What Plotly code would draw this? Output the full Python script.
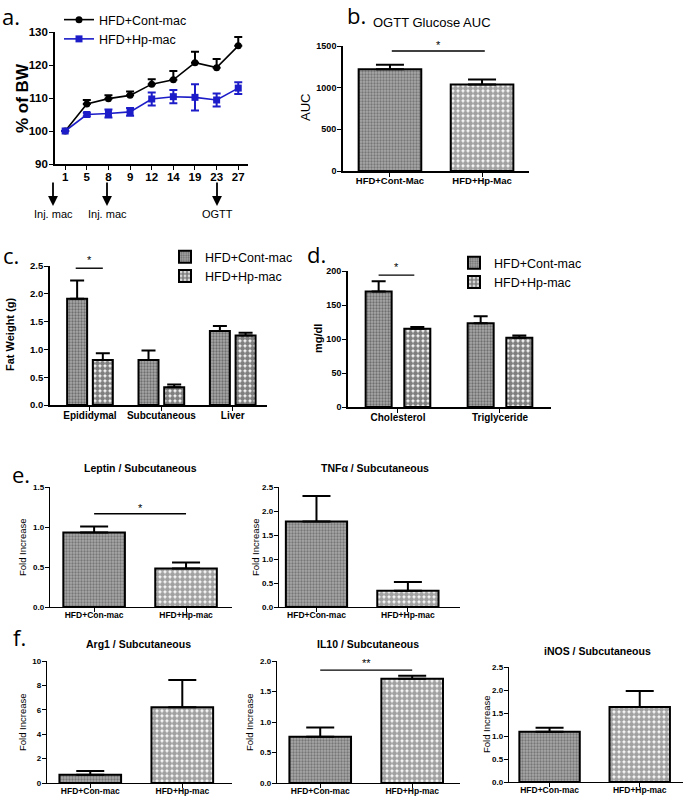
import plotly.graph_objects as go

W, H = 685, 799
def px(x): return x / W
def py(y): return 1 - y / H

FONT = "Liberation Sans, Arial, sans-serif"

# ---------------- data ----------------
days = ["1", "5", "8", "9", "12", "14", "19", "23", "27"]
bw_cont = [100, 108.2, 109.8, 110.8, 114.2, 115.5, 120.7, 119.2, 125.8]
bw_cont_err = [0, 1.2, 1.0, 1.2, 1.5, 2.7, 3.3, 2.6, 2.7]
bw_hp = [100, 105.0, 105.3, 105.8, 109.7, 110.4, 110.2, 109.4, 113.0]
bw_hp_err = [0, 0.5, 1.2, 1.2, 2.0, 2.0, 4.0, 2.0, 1.8]

auc_groups = ["HFD+Cont-Mac", "HFD+Hp-Mac"]
auc_vals = [1222, 1037]
auc_err = [52, 62]

fat_tissues = ["Epididymal", "Subcutaneous", "Liver"]
fat_cont = [1.91, 0.81, 1.33]
fat_cont_err = [0.33, 0.17, 0.09]
fat_hp = [0.81, 0.32, 1.25]
fat_hp_err = [0.12, 0.05, 0.05]

lipid_types = ["Cholesterol", "Triglyceride"]
lipid_cont = [170, 123]
lipid_cont_err = [15, 10.5]
lipid_hp = [115, 102]
lipid_hp_err = [2.5, 3]

gene_groups = ["HFD+Con-mac", "HFD+Hp-mac"]
leptin_vals = [0.93, 0.48]
leptin_err = [0.075, 0.075]
tnf_vals = [1.78, 0.34]
tnf_err = [0.53, 0.18]
arg1_vals = [0.67, 6.2]
arg1_err = [0.32, 2.25]
il10_vals = [0.76, 1.71]
il10_err = [0.15, 0.05]
inos_vals = [1.09, 1.63]
inos_err = [0.09, 0.35]

leg_cont = "HFD+Cont-mac"
leg_hp = "HFD+Hp-mac"

# ---------------- styles ----------------
CONT_PAT = dict(shape=".", fgcolor="#333333", bgcolor="#a8a8a8", size=3, solidity=0.45)
HP_PAT = dict(shape=".", fgcolor="#000000", bgcolor="#ffffff", size=5, solidity=0.75)
BLUE = "#1c1cc8"

fig = go.Figure()
layout = {}
annotations = []
shapes = []

def axes(n, x0, x1, ytop, ybot, yrange, dtick, xrange, tickfs=9, xtickfs=9.5, lw=1.6, xstand=-4):
    sfx = "" if n == 1 else str(n)
    layout["xaxis" + sfx] = dict(
        domain=[px(x0), px(x1)], anchor="y" + sfx, range=xrange, type="category",
        showline=True, linecolor="black", linewidth=lw, ticks="outside", ticklen=4,
        tickwidth=1.2, tickcolor="black", showgrid=False, zeroline=False,
        ticklabelstandoff=xstand, automargin=False,
        tickfont=dict(family=FONT, size=xtickfs, color="black", weight="bold"))
    layout["yaxis" + sfx] = dict(
        domain=[py(ybot), py(ytop)], anchor="x" + sfx, range=yrange, dtick=dtick,
        showline=True, linecolor="black", linewidth=lw, ticks="outside", ticklen=4,
        tickwidth=1.2, tickcolor="black", showgrid=False, zeroline=False,
        ticklabelstandoff=-1, automargin=False,
        tickfont=dict(family=FONT, size=tickfs, color="black", weight="bold"))
    return "x" + sfx, "y" + sfx

def bar(xa, ya, x, y, err, pat, width=0.67, offset=None, name=None, legend=None, showlegend=False):
    kw = {}
    if offset is not None:
        kw["offset"] = offset
    fig.add_trace(go.Bar(
        x=x, y=y, xaxis=xa, yaxis=ya, width=width, name=name,
        showlegend=showlegend, legend=legend,
        marker=dict(color=pat["bgcolor"], pattern=pat, line=dict(color="black", width=2)),
        error_y=dict(type="data", array=err, arrayminus=[0] * len(err), symmetric=False,
                     color="black", thickness=2, width=7),
        **kw))

def single_bar_panel(xa, ya, cats, vals, errs, width=0.67):
    pats = [CONT_PAT, HP_PAT]
    fig.add_trace(go.Bar(
        x=cats, y=vals, xaxis=xa, yaxis=ya, width=width, showlegend=False,
        marker=dict(color=[p["bgcolor"] for p in pats],
                    pattern=dict(shape=[p["shape"] for p in pats],
                                 fgcolor=[p["fgcolor"] for p in pats],
                                 bgcolor=[p["bgcolor"] for p in pats],
                                 size=[p["size"] for p in pats],
                                 solidity=[p["solidity"] for p in pats]),
                    line=dict(color="black", width=2)),
        error_y=dict(type="data", array=errs, arrayminus=[0] * len(errs), symmetric=False,
                     color="black", thickness=2, width=14)))

def text(x, y, t, size=11, bold=False, angle=0, family=FONT, xanchor="center"):
    annotations.append(dict(x=px(x), y=py(y), xref="paper", yref="paper", text=t,
                            showarrow=False, textangle=angle, xanchor=xanchor, yanchor="middle",
                            font=dict(family=family, size=size, color="black",
                                      weight="bold" if bold else "normal")))

def sig(xa, ya, x0, x1, yv, star, ystar, ymax):
    shapes.append(dict(type="line", xref=xa, yref=ya + " domain", x0=x0, x1=x1,
                       y0=yv / ymax, y1=yv / ymax, line=dict(color="black", width=1.4)))
    annotations.append(dict(x=(x0 + x1) / 2, y=ystar / ymax, xref=xa, yref=ya + " domain",
                            text=star, showarrow=False, yanchor="middle",
                            font=dict(family=FONT, size=11, color="black")))

# ---------------- panel a ----------------
xa, ya = axes(1, 55, 248, 32, 164, [90, 130], 10, [-0.47, 8.45], tickfs=11.5, xtickfs=11.5, xstand=-3)
fig.add_trace(go.Scatter(x=days, y=bw_cont, xaxis=xa, yaxis=ya, name=leg_cont, legend="legend",
                         mode="lines+markers", line=dict(color="black", width=1.6),
                         marker=dict(symbol="circle", size=7, color="black"),
                         error_y=dict(type="data", array=bw_cont_err, arrayminus=[0] * 9,
                                      symmetric=False, color="black", thickness=2, width=4)))
fig.add_trace(go.Scatter(x=days, y=bw_hp, xaxis=xa, yaxis=ya, name=leg_hp, legend="legend",
                         mode="lines+markers", line=dict(color=BLUE, width=1.6),
                         marker=dict(symbol="square", size=7, color=BLUE),
                         error_y=dict(type="data", array=bw_hp_err, color=BLUE,
                                      thickness=2, width=4)))
text(22, 98, "% of BW", size=17, bold=True, angle=-90)
for xpos, lab in [(53, "Inj. mac"), (107, "Inj. mac"), (217, "OGTT")]:
    annotations.append(dict(x=px(xpos), y=py(206), xref="paper", yref="paper", text="",
                            showarrow=True, ax=0, ay=-25, arrowhead=2, arrowsize=1.1,
                            arrowwidth=1.8, arrowcolor="black"))
    text(xpos, 214, lab, size=11)

# ---------------- panel b ----------------
xa, ya = axes(2, 343, 529, 46, 171, [0, 1500], 500, [-0.51, 1.51], tickfs=9)
single_bar_panel(xa, ya, auc_groups, auc_vals, auc_err, width=0.68)
text(305, 108, "AUC", size=13, angle=-90)
text(432, 22, "OGTT Glucose AUC", size=13)
sig(xa, ya, 0.02, 1.03, 1440, "*", 1510, 1500)

# ---------------- panel c ----------------
xa, ya = axes(3, 50, 267, 266, 405, [0, 2.5], 0.5, [-0.56, 2.48], tickfs=9.5, xtickfs=10)
bar(xa, ya, fat_tissues, fat_cont, fat_cont_err, CONT_PAT, width=0.28, offset=-0.32,
    name=leg_cont, legend="legend2", showlegend=True)
bar(xa, ya, fat_tissues, fat_hp, fat_hp_err, HP_PAT, width=0.28, offset=0.04,
    name=leg_hp, legend="legend2", showlegend=True)
layout["yaxis3"]["tickformat"] = ".1f"
text(10, 335, "Fat Weight (g)", size=11, bold=True, angle=-90)
sig(xa, ya, -0.2, 0.18, 2.46, "*", 2.6, 2.5)

# ---------------- panel d ----------------
xa, ya = axes(4, 348, 551, 271, 407, [0, 200], 50, [-0.49, 1.5], tickfs=9, xtickfs=10)
bar(xa, ya, lipid_types, lipid_cont, lipid_cont_err, CONT_PAT, width=0.255, offset=-0.317,
    name=leg_cont, legend="legend3", showlegend=True)
bar(xa, ya, lipid_types, lipid_hp, lipid_hp_err, HP_PAT, width=0.255, offset=0.062,
    name=leg_hp, legend="legend3", showlegend=True)
text(318, 339, "mg/dl", size=11, bold=True, angle=-90)
sig(xa, ya, -0.19, 0.16, 194, "*", 206, 200)

# ---------------- panel e ----------------
xa, ya = axes(5, 50, 232, 487, 607, [0, 1.5], 0.5, [-0.48, 1.5], tickfs=8, xtickfs=8.5, lw=1.4)
layout["yaxis5"]["tickformat"] = ".1f"
single_bar_panel(xa, ya, gene_groups, leptin_vals, leptin_err)
text(22, 547, "Fold Increase", size=9.5, angle=-90)
text(140, 468, "Leptin / Subcutaneous", size=10.5, bold=True)
sig(xa, ya, 0.0, 1.0, 1.165, "*", 1.24, 1.5)

xa, ya = axes(6, 279, 460, 487, 607, [0, 2.5], 0.5, [-0.41, 1.57], tickfs=8, xtickfs=8.5, lw=1.4)
layout["yaxis6"]["tickformat"] = ".1f"
single_bar_panel(xa, ya, gene_groups, tnf_vals, tnf_err)
text(255, 547, "Fold Increase", size=9.5, angle=-90)
text(375, 468, "TNFα / Subcutaneous", size=10.5, bold=True)

# ---------------- panel f ----------------
xa, ya = axes(7, 47, 232, 661, 783, [0, 10], 2, [-0.47, 1.54], tickfs=8, xtickfs=8.5, lw=1.4)
single_bar_panel(xa, ya, gene_groups, arg1_vals, arg1_err)
text(22, 722, "Fold Increase", size=9.5, angle=-90)
text(138, 644, "Arg1 / Subcutaneous", size=10.5, bold=True)

xa, ya = axes(8, 277, 460, 661, 783, [0, 2.0], 0.5, [-0.47, 1.52], tickfs=8, xtickfs=8.5, lw=1.4)
layout["yaxis8"]["tickformat"] = ".1f"
single_bar_panel(xa, ya, gene_groups, il10_vals, il10_err)
text(249, 722, "Fold Increase", size=9.5, angle=-90)
text(368, 644, "IL10 / Subcutaneous", size=10.5, bold=True)
sig(xa, ya, 0.0, 1.0, 1.85, "**", 1.97, 2.0)

xa, ya = axes(9, 509, 683, 667, 782, [0, 2.5], 0.5, [-0.45, 1.48], tickfs=8, xtickfs=8.5, lw=1.4)
layout["yaxis9"]["tickformat"] = ".1f"
single_bar_panel(xa, ya, gene_groups, inos_vals, inos_err)
text(486, 724, "Fold Increase", size=9.5, angle=-90)
text(597, 651, "iNOS / Subcutaneous", size=10.5, bold=True)

# ---------------- panel letters ----------------
LF = "Open Sans, Noto Sans, sans-serif"
for (lx, ly, lt) in [(0, 16, "a."), (345, 15, "b."), (1, 255, "c."), (305, 254, "d."),
                     (10, 474, "e."), (11, 637, "f.")]:
    text(lx, ly, lt, size=22, family=LF, xanchor="left")

leg_common = dict(bgcolor="rgba(0,0,0,0)", font=dict(family=FONT, size=12.5, color="black"),
                  xanchor="left", yanchor="top", tracegroupgap=0, itemwidth=30)

fig.update_layout(
    width=W, height=H, margin=dict(l=0, r=0, t=0, b=0, autoexpand=False),
    paper_bgcolor="white", plot_bgcolor="white", barmode="overlay",
    font=dict(family=FONT, color="black"),
    annotations=annotations, shapes=shapes,
    legend=dict(x=px(59), y=py(5), **leg_common),
    legend2=dict(x=px(165), y=py(242), **leg_common),
    legend3=dict(x=px(454), y=py(248), **leg_common),
    **layout)

fig.write_html("out.html", config={"displayModeBar": False},
               post_script="document.body.style.margin='0';document.body.style.overflow='hidden';")
